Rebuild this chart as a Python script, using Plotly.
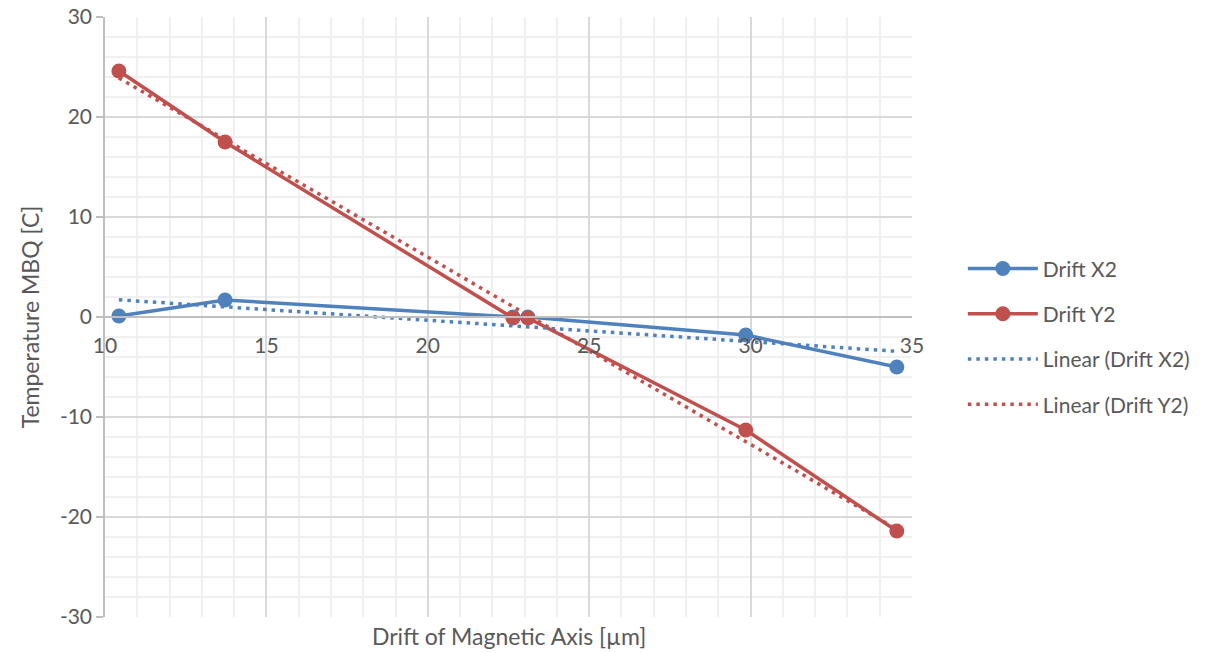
import numpy as np
import plotly.graph_objects as go

# Measured drift of the magnetic axis [µm] and MBQ temperature [C]
drift_x = [10.43, 13.72, 22.64, 23.10, 29.85, 34.53]
temp_x2 = [0.1, 1.7, 0.0, 0.0, -1.8, -5.0]
temp_y2 = [24.6, 17.5, -0.1, -0.1, -11.3, -21.4]

series_names = ["Drift X2", "Drift Y2"]
series_colors = ["#4f81bd", "#c0504d"]

x_ticks = [10, 15, 20, 25, 30, 35]
y_ticks = [-30, -20, -10, 0, 10, 20, 30]

FONT = "Lato"
TEXT = "#595959"

fig = go.Figure()

series = [temp_x2, temp_y2]
for i, (name, ys, col) in enumerate(zip(series_names, series, series_colors)):
    fig.add_trace(go.Scatter(
        x=drift_x, y=ys, mode="lines+markers", name=name,
        line=dict(color=col, width=3.5),
        marker=dict(color=col, size=15),
        legendgroup=f"g{i}", legendrank=i + 1,
    ))

# Least-squares linear trendlines across the measured range
xs_fit = np.array([min(drift_x), max(drift_x)])
for i, (name, ys, col) in enumerate(zip(series_names, series, series_colors)):
    slope, intercept = np.polyfit(drift_x, ys, 1)
    fig.add_trace(go.Scatter(
        x=xs_fit, y=slope * xs_fit + intercept, mode="lines",
        name=f"Linear ({name})",
        line=dict(color=col, width=3.5, dash="3.5px,5px"),
        legendgroup=f"t{i}", legendrank=i + 3,
    ))

fig.update_layout(
    width=1207, height=653,
    margin=dict(l=105, r=295, t=17, b=36),
    plot_bgcolor="white", paper_bgcolor="white",
    font=dict(family=FONT, size=21, color=TEXT),
    showlegend=True,
    legend=dict(
        x=1.063, y=0.467, xanchor="left", yanchor="middle",
        font=dict(family=FONT, size=21, color=TEXT),
        traceorder="grouped", tracegroupgap=15,
        itemwidth=70, bgcolor="rgba(0,0,0,0)",
    ),
    xaxis=dict(
        range=[10, 35], tickvals=x_ticks, ticktext=[str(v) for v in x_ticks],
        anchor="free", position=0.5, automargin=False,
        showline=True, linecolor="#bfbfbf", linewidth=1.5,
        showgrid=True, gridcolor="#d9d9d9", gridwidth=1.5,
        minor=dict(dtick=1, showgrid=True, gridcolor="#f0f0f0", gridwidth=1.5),
        ticks="", ticklabelstandoff=10,
        tickfont=dict(family=FONT, size=21, color=TEXT),
        zeroline=False,
    ),
    yaxis=dict(
        range=[-30, 30], tickvals=y_ticks, ticktext=[str(v) for v in y_ticks],
        automargin=False,
        showline=True, linecolor="#bfbfbf", linewidth=1.5,
        showgrid=True, gridcolor="#d9d9d9", gridwidth=1.5,
        minor=dict(dtick=2, showgrid=True, gridcolor="#f0f0f0", gridwidth=1.5),
        ticks="outside", ticklen=7, tickcolor="#bfbfbf", tickwidth=1.5,
        tickfont=dict(family=FONT, size=21, color=TEXT),
        zeroline=False,
        title=dict(text="Temperature MBQ [C]", standoff=14,
                   font=dict(family=FONT, size=23, color=TEXT)),
    ),
)

fig.add_annotation(
    text="Drift of Magnetic Axis [µm]", xref="paper", yref="paper",
    x=0.5, y=0, yshift=-19, yanchor="middle", showarrow=False,
    font=dict(family=FONT, size=23, color=TEXT),
)

fig.write_html("out.html")
